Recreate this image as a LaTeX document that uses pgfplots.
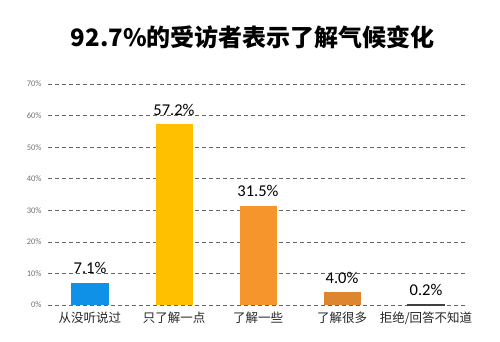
\documentclass[border=0pt]{standalone}
\usepackage{pgfplots}
\pgfplotsset{compat=1.18}
\usepackage{fontspec}
\setmainfont{Carlito}
\newfontfamily\cjk{Noto Sans CJK SC}
\definecolor{cblue}{HTML}{0F91E8}
\definecolor{cyellow}{HTML}{FFC000}
\definecolor{corange}{HTML}{F5952B}
\definecolor{cbrown}{HTML}{DE8530}
\definecolor{cgray}{HTML}{404040}
\begin{document}
\begin{tikzpicture}[x=1pt,y=1pt]
\begin{axis}[
  scale only axis,
  width=420pt, height=221pt,
  xmin=-0.5, xmax=4.5, ymin=0, ymax=70,
  axis line style={draw=none},
  ybar, bar width=37pt, bar shift=0pt,
  xtick={0,1,2,3,4},
  xticklabels={从没听说过,只了解一点,了解一些,了解很多,拒绝/回答不知道},
  xticklabel style={font=\cjk\fontsize{12.5}{13}\selectfont, text=black!85, yshift=-3pt},
  ytick={0,10,...,70},
  yticklabel={\pgfmathprintnumber{\tick}\%},
  yticklabel style={font=\fontsize{8.5}{9}\selectfont, text=black!55, xshift=-3pt},
  /pgf/number format/assume math mode=true,
  major tick length=0pt,
  ymajorgrids,
  grid style={dash pattern=on 4pt off 3pt, black!60, line width=0.6pt},
  clip=false,
  nodes near coords={\pgfmathprintnumber[fixed,precision=1,fixed zerofill]{\pgfplotspointmeta}\%},
  nodes near coords style={font=\fontsize{16.5}{17}\selectfont, text=black, yshift=5pt},
]
\addplot[fill=cblue, draw=none] coordinates {(0,7.1)};
\addplot[fill=cyellow, draw=none] coordinates {(1,57.2)};
\addplot[fill=corange, draw=none] coordinates {(2,31.5)};
\addplot[fill=cbrown, draw=none] coordinates {(3,4.0)};
\addplot[fill=cgray, draw=cgray] coordinates {(4,0.2)};
\node[font=\cjk\bfseries\fontsize{24}{25}\selectfont, text=black] at (rel axis cs:0.488,1.21) {92.7\%的受访者表示了解气候变化};
\end{axis}
\path[use as bounding box] (-48,-37) rectangle (452,305);
\end{tikzpicture}
\end{document}
